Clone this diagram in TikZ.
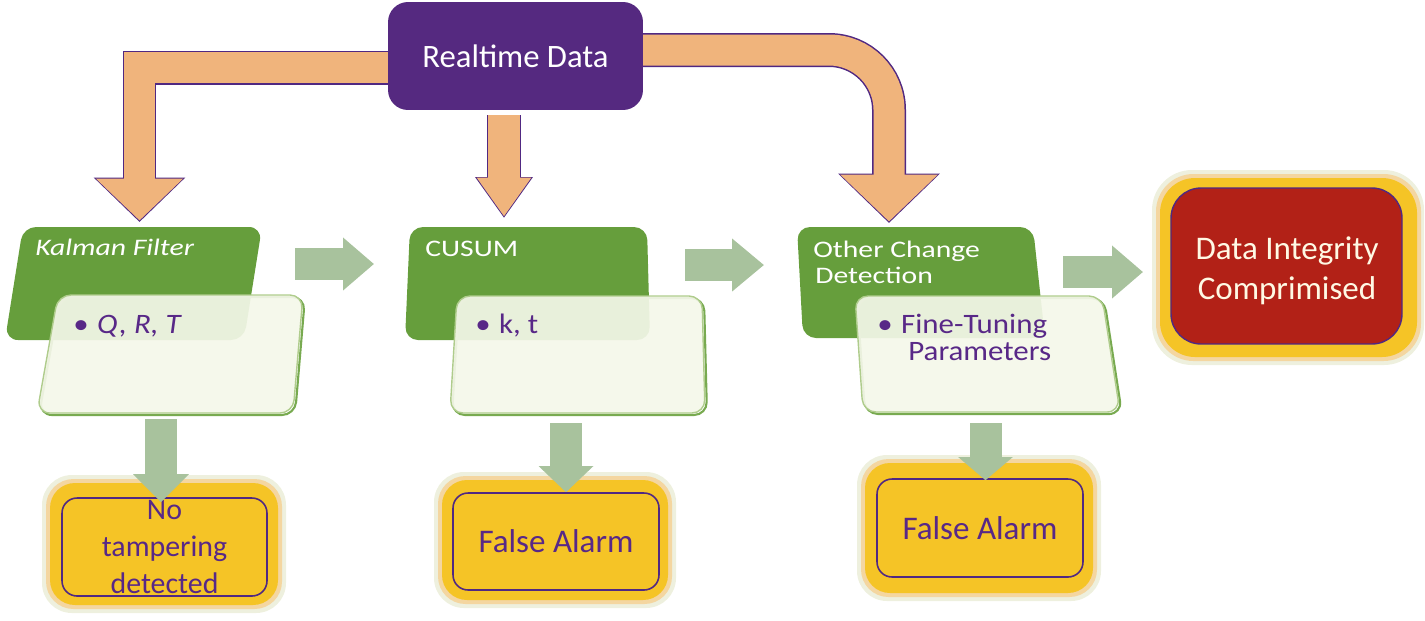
\documentclass[tikz,border=0pt]{standalone}
\usepackage{fontspec}
\setmainfont{Carlito}
\newfontfamily\widefam[FakeStretch=1.25]{Carlito}
\newfontfamily\semiwidefam[FakeStretch=1.1]{Carlito}
\usetikzlibrary{arrows.meta}
\definecolor{rtpurple}{RGB}{85,41,128}
\definecolor{orangeA}{RGB}{240,180,124}
\definecolor{edgepurple}{RGB}{80,40,130}
\definecolor{boxgreen}{RGB}{102,158,60}
\definecolor{paleg}{RGB}{244,247,233}
\definecolor{edgegreen}{RGB}{175,204,140}
\definecolor{shadowgreen}{RGB}{120,170,80}
\definecolor{arrowgreen}{RGB}{168,194,157}
\definecolor{yellowA}{RGB}{245,196,38}
\definecolor{haloA}{RGB}{238,240,222}
\definecolor{haloB}{RGB}{244,214,160}
\definecolor{txtpurple}{RGB}{88,40,135}
\definecolor{redA}{RGB}{178,33,23}
\definecolor{cream}{RGB}{255,249,228}
\begin{document}
\begin{tikzpicture}[x=0.02cm,y=-0.02cm,
  rtbox/.style={fill=rtpurple, rounded corners=0.4cm, minimum width=5.1cm, minimum height=2.16cm, inner sep=0, text=white, font=\fontsize{18.6}{22}\selectfont},
  greenbox/.style={fill=boxgreen, rounded corners=0.26cm},
  whitebox/.style={fill=paleg, fill opacity=0.92, draw=edgegreen, line width=0.8pt, rounded corners=0.26cm},
  shadowbox/.style={draw=shadowgreen, line width=1.2pt, rounded corners=0.26cm},
  ttl/.style={anchor=base west, inner sep=0, text=white, font=\widefam\fontsize{13.5}{16}\selectfont},
  itm/.style={anchor=base west, inner sep=0, text=txtpurple, font=\semiwidefam\fontsize{16}{19}\selectfont},
  ybox/.style={draw=edgepurple, line width=0.9pt, rounded corners=0.3cm, inner sep=0, align=center, text=txtpurple},
  garrow/.style={arrowgreen, line width=0.64cm},
]
\useasboundingbox (0,0) rectangle (1425,620);

% ---------- orange arrows from the realtime data ----------
\coordinate (lo) at (400,67.5);
\coordinate (lt) at (139.5,222);
\coordinate (ltf) at (139.5,220.5);
\coordinate (mo) at (504,115);
\coordinate (mt) at (504,218);
\coordinate (mtf) at (504,216.5);
\coordinate (ro) at (630,50);
\coordinate (rt2) at (889,223);
\coordinate (rtf) at (889,221.5);
% outlines
\draw[edgepurple, line width=0.68cm, -{Triangle[width=1.78cm,length=0.89cm]}] (lo) -| (lt);
\draw[edgepurple, line width=0.68cm, -{Triangle[width=1.1cm,length=0.82cm]}] (mo) -- (mt);
\draw[edgepurple, line width=0.68cm, rounded corners=1.2cm, -{Triangle[width=1.98cm,length=0.99cm]}] (ro) -| (rt2);
% fills
\draw[orangeA, line width=0.62cm, -{Triangle[width=1.7cm,length=0.84cm]}] (lo) -| (ltf);
\draw[orangeA, line width=0.64cm, -{Triangle[width=1.04cm,length=0.78cm]}] (mo) -- (mtf);
\draw[orangeA, line width=0.62cm, rounded corners=1.2cm, -{Triangle[width=1.9cm,length=0.94cm]}] (ro) -| (rtf);
\node[rtbox] (rt) at (515.5,56) {Realtime Data};

% ---------- Kalman group ----------
\fill[greenbox] (23,227) -- (262,227) -- (244,340) -- (5,340) -- cycle;
\draw[shadowbox] (60,297) -- (305,297) -- (295,415) -- (39,415) -- cycle;
\draw[whitebox] (58,295) -- (303,295) -- (293,413) -- (37,413) -- cycle;
\node[ttl, font=\widefam\itshape\fontsize{13.5}{16}\selectfont] (kal) at (35,255) {Kalman Filter};
\node[itm] (kalp) at (73,333) {•\hspace{0.3em}\textit{Q, R, T}};

% ---------- CUSUM group ----------
\fill[greenbox] (410,227) -- (647,227) -- (650,340) -- (405,340) -- cycle;
\draw[shadowbox] (459,298) -- (704,298) -- (707,415) -- (452,415) -- cycle;
\draw[whitebox] (457,296) -- (702,296) -- (705,413) -- (450,413) -- cycle;
\node[ttl] (cus) at (425,256) {CUSUM};
\node[itm] (cusp) at (475,333) {•\hspace{0.3em}k, t};

% ---------- Other change detection group ----------
\fill[greenbox] (797,227) -- (1033,227) -- (1045,338) -- (803,338) -- cycle;
\draw[shadowbox] (857,298) -- (1104,298) -- (1122,414) -- (865,414) -- cycle;
\draw[whitebox] (855,296) -- (1102,296) -- (1120,412) -- (863,412) -- cycle;
\node[ttl] (ocd1) at (813,257) {Other Change};
\node[ttl] (ocd2) at (815,283) {Detection};
\node[itm] (ocdp1) at (877,333) {•\hspace{0.3em}Fine-Tuning};
\node[itm] (ocdp2) at (908,360) {Parameters};

% ---------- Data integrity box ----------
\fill[haloA, rounded corners=0.8cm] (1152,170) rectangle (1424,365);
\fill[haloB, rounded corners=0.75cm] (1156,174) rectangle (1421,361);
\fill[yellowA, rounded corners=0.7cm] (1160,178) rectangle (1417,357);
\node[fill=redA, draw=edgepurple, line width=0.8pt, rounded corners=0.6cm, minimum width=4.62cm, minimum height=3.12cm, inner sep=0] (di) at (1286.5,266) {};
\node[align=center, inner sep=0, text=cream, font=\fontsize{18.8}{22.7}\selectfont] (dit) at (1287,270.5) {Data Integrity\\Comprimised};

% ---------- yellow result boxes ----------
\fill[haloA, rounded corners=0.6cm] (42,475) rectangle (286,613);
\fill[haloB, rounded corners=0.55cm] (46,479) rectangle (282,609);
\fill[yellowA, rounded corners=0.5cm] (50,483) rectangle (278,605);
\node[ybox, minimum width=4.1cm, minimum height=1.96cm, fill=yellowA, font=\fontsize{17}{21}\selectfont] (nt) at (164.5,547) {No\\tampering\\detected};

\fill[haloA, rounded corners=0.6cm] (434,472) rectangle (676,608);
\fill[haloB, rounded corners=0.55cm] (438,476) rectangle (672,604);
\fill[yellowA, rounded corners=0.5cm] (442,480) rectangle (668,600);
\node[ybox, minimum width=4.12cm, minimum height=1.94cm, fill=yellowA, font=\fontsize{18.8}{22}\selectfont] (fa2) at (556,541.5) {False Alarm};

\fill[haloA, rounded corners=0.6cm] (857,455) rectangle (1101,601);
\fill[haloB, rounded corners=0.55cm] (861,459) rectangle (1097,597);
\fill[yellowA, rounded corners=0.5cm] (865,463) rectangle (1093,593);
\node[ybox, minimum width=4.12cm, minimum height=1.96cm, fill=yellowA, font=\fontsize{18.8}{22}\selectfont] (fa3) at (980,528) {False Alarm};

% ---------- green block arrows ----------
\coordinate (h1s) at (295,264);
\coordinate (h1e) at (374,264);
\coordinate (h2s) at (685,265);
\coordinate (h2e) at (764,265);
\coordinate (h3s) at (1063,272);
\coordinate (h3e) at (1143,272);
\draw[garrow, -{Triangle[width=1.02cm,length=0.62cm]}] (h1s) -- (h1e);
\draw[garrow, -{Triangle[width=1.02cm,length=0.64cm]}] (h2s) -- (h2e);
\draw[garrow, -{Triangle[width=1.02cm,length=0.62cm]}] (h3s) -- (h3e);

\coordinate (v1s) at (161,419);
\coordinate (v2s) at (566,423);
\coordinate (v3s) at (985.5,423);
\draw[garrow, -{Triangle[width=1.08cm,length=0.56cm]}] (v1s) -- ([yshift=-0.1cm]nt.north -| v1s);
\draw[garrow, -{Triangle[width=1.06cm,length=0.52cm]}] (v2s) -- (fa2.north -| v2s);
\draw[garrow, -{Triangle[width=1.06cm,length=0.46cm]}] (v3s) -- ([yshift=-0.04cm]fa3.north -| v3s);
\end{tikzpicture}
\end{document}
